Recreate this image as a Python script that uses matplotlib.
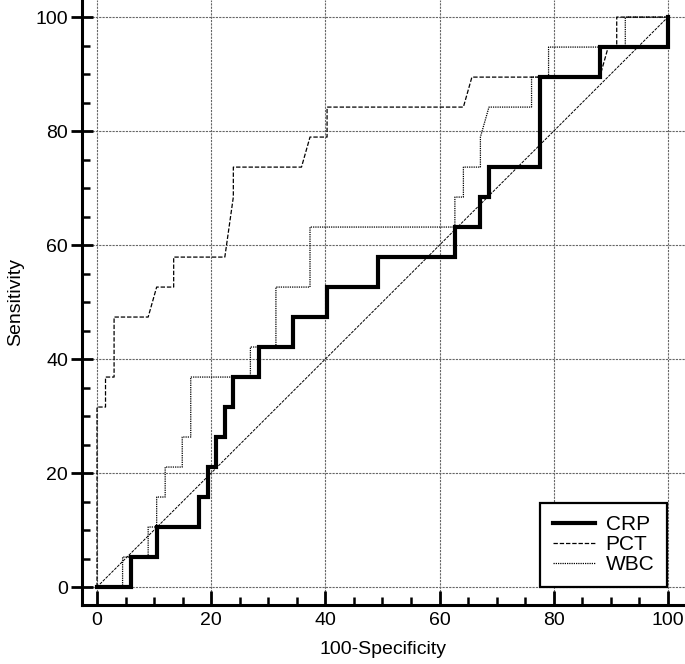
import matplotlib.pyplot as plt
from matplotlib.ticker import MultipleLocator

plt.rcParams['font.family'] = ['Liberation Sans', 'DejaVu Sans']

# ROC curves, values in percent (100-Specificity, Sensitivity)
crp_x = [0, 5.97, 5.97, 10.45, 10.45, 17.91, 17.91, 19.40, 19.40, 20.90, 20.90, 22.39, 22.39,
         23.88, 23.88, 28.36, 28.36, 34.33, 34.33, 40.30, 40.30, 49.25, 49.25, 62.69, 62.69,
         67.16, 67.16, 68.66, 68.66, 77.61, 77.61, 88.06, 88.06, 100, 100]
crp_y = [0, 0, 5.26, 5.26, 10.53, 10.53, 15.79, 15.79, 21.05, 21.05, 26.32, 26.32, 31.58,
         31.58, 36.84, 36.84, 42.11, 42.11, 47.37, 47.37, 52.63, 52.63, 57.89, 57.89, 63.16,
         63.16, 68.42, 68.42, 73.68, 73.68, 89.47, 89.47, 94.74, 94.74, 100]

pct_x = [0, 0, 1.49, 1.49, 2.99, 2.99, 8.96, 10.45, 13.43, 13.43, 22.39, 23.88, 23.88, 35.82,
         37.31, 40.30, 40.30, 64.18, 65.67, 88.06, 89.55, 91.04, 91.04, 100]
pct_y = [0, 31.58, 31.58, 36.84, 36.84, 47.37, 47.37, 52.63, 52.63, 57.89, 57.89, 68.42, 73.68,
         73.68, 78.95, 78.95, 84.21, 84.21, 89.47, 89.47, 94.74, 94.74, 100, 100]

wbc_x = [0, 4.48, 4.48, 8.96, 8.96, 10.45, 10.45, 11.94, 11.94, 14.93, 14.93, 16.42, 16.42,
         26.87, 26.87, 31.34, 31.34, 37.31, 37.31, 62.69, 62.69, 64.18, 64.18, 67.16, 67.16,
         68.66, 76.12, 76.12, 79.10, 79.10, 92.54, 92.54, 100]
wbc_y = [0, 0, 5.26, 5.26, 10.53, 10.53, 15.79, 15.79, 21.05, 21.05, 26.32, 26.32, 36.84,
         36.84, 42.11, 42.11, 52.63, 52.63, 63.16, 63.16, 68.42, 68.42, 73.68, 73.68, 78.95,
         84.21, 84.21, 89.47, 89.47, 94.74, 94.74, 100, 100]

ticks = [0, 20, 40, 60, 80, 100]

fig = plt.figure(figsize=(6.85, 6.64), dpi=100)
ax = fig.add_axes([0.1197, 0.0889, 0.8803, 0.9111])

# reference line
ax.plot([0, 100], [0, 100], color='black', lw=0.7, linestyle=(0, (3, 1.2)), zorder=2)

ax.plot(crp_x, crp_y, color='black', lw=3.0, label='CRP', zorder=5, solid_joinstyle='miter')
ax.plot(pct_x, pct_y, color='black', lw=0.9, linestyle=(0, (3.5, 1.5)), label='PCT', zorder=4)
ax.plot(wbc_x, wbc_y, color='black', lw=0.9, linestyle=(0, (1, 0.8)), label='WBC', zorder=3)

ax.set_xlim(-2.63, 103)
ax.set_ylim(-3.15, 103)
ax.set_xticks(ticks)
ax.set_yticks(ticks)
ax.xaxis.set_minor_locator(MultipleLocator(5))
ax.yaxis.set_minor_locator(MultipleLocator(5))
ax.grid(True, which='major', color='0.4', lw=0.8, linestyle=(0, (2, 1)))
ax.set_axisbelow(True)

for s in ['top', 'right']:
    ax.spines[s].set_visible(False)
for s in ['left', 'bottom']:
    ax.spines[s].set_linewidth(2.2)

ax.tick_params(axis='y', which='major', direction='inout', length=16, width=2, labelsize=14, pad=2)
ax.tick_params(axis='x', which='major', direction='in', length=10, width=2, labelsize=14, pad=5)
ax.tick_params(which='minor', direction='in', length=6, width=1.8)

ax.set_xlabel('100-Specificity', fontsize=14, labelpad=9)
ax.set_ylabel('Sensitivity', fontsize=14, labelpad=8)

leg = ax.legend(loc='lower right', bbox_to_anchor=(0.970, 0.0298), fontsize=15,
                frameon=True, fancybox=False, framealpha=1, edgecolor='black',
                handlelength=2.05, handletextpad=0.5, labelspacing=0.05, borderpad=0.6,
                borderaxespad=0)
leg.get_frame().set_linewidth(1.6)

plt.savefig('out.png', dpi=100)
